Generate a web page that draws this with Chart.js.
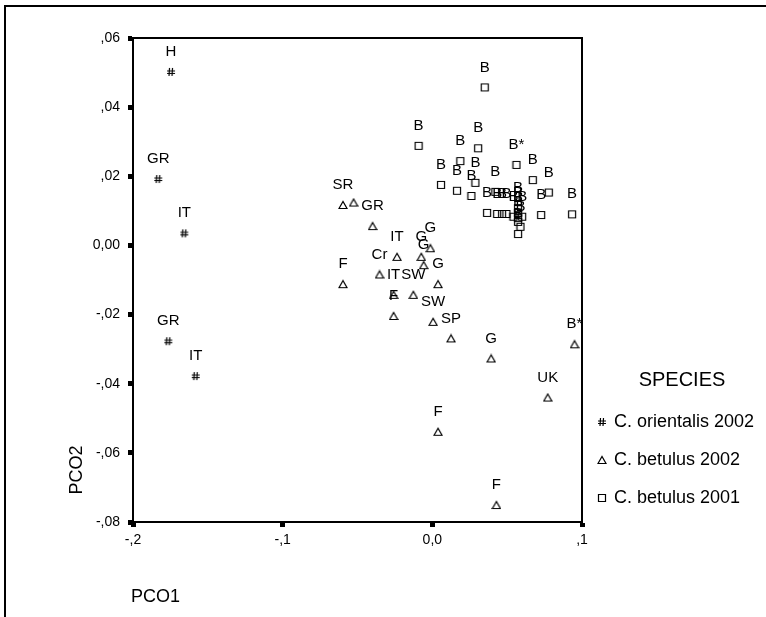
<!DOCTYPE html>
<html>
<head>
<meta charset="utf-8">
<script src="https://cdn.jsdelivr.net/npm/chart.js@4.4.1/dist/chart.umd.min.js"></script>
<style>
  html, body { margin: 0; padding: 0; background: #fff; }
  #wrap { width: 766px; height: 617px; }
</style>
</head>
<body>
<div id="wrap"><canvas id="pcoChart" width="766" height="617"></canvas></div>
<script>
// PCO1 / PCO2 scores per sample
const orientalisX = [-0.1746, -0.1831, -0.1657, -0.1764, -0.1581];
const orientalisY = [0.0502, 0.0192, 0.0035, -0.0277, -0.0378];
const orientalisLabels = ['H', 'GR', 'IT', 'GR', 'IT'];

const betulus02X = [-0.0597, -0.0526, -0.0399, -0.0236, -0.0353, -0.0259, -0.0259, -0.0597, -0.0127, 0.0005,
                    0.0125, -0.0013, -0.0074, -0.0058, 0.0038, 0.0393, 0.0771, 0.0950, 0.0038, 0.0428];
const betulus02Y = [0.0117, 0.0124, 0.0056, -0.0033, -0.0084, -0.0143, -0.0204, -0.0112, -0.0143, -0.0221,
                    -0.0269, -0.0008, -0.0033, -0.0057, -0.0112, -0.0327, -0.0440, -0.0286, -0.0539, -0.0751];
const betulus02Labels = ['SR', '', 'GR', 'IT', 'Cr', 'IT', 'F', 'F', 'SW', 'SW',
                         'SP', 'G', 'G', 'G', 'G', 'G', 'UK', 'B*', 'F', 'F'];

const betulus01X = [0.0350, -0.0092, 0.0306, 0.0187, 0.0562, 0.0671, 0.0058, 0.0288, 0.0165, 0.0261,
                    0.0421, 0.0778, 0.0366, 0.0433, 0.0466, 0.0495, 0.0542, 0.0573, 0.0573, 0.0573,
                    0.0600, 0.0573, 0.0589, 0.0573, 0.0727, 0.0934];
const betulus01Y = [0.0457, 0.0288, 0.0281, 0.0244, 0.0233, 0.0189, 0.0175, 0.0181, 0.0158, 0.0143,
                    0.0155, 0.0153, 0.0094, 0.0091, 0.0091, 0.0091, 0.0083, 0.0108, 0.0094, 0.0079,
                    0.0083, 0.0068, 0.0054, 0.0033, 0.0088, 0.0090];
const betulus01Labels = ['B', 'B', 'B', 'B', 'B*', 'B', 'B', 'B', 'B', 'B',
                         'B', 'B', 'B', 'B', 'B', 'B', 'B', 'B', 'B', 'B',
                         'B', 'B', 'B', 'B', 'B', 'B'];

const seriesNames = ['C. orientalis 2002', 'C. betulus 2002', 'C. betulus 2001'];
const xTicks = [-0.2, -0.1, 0.0, 0.1];
const yTicks = [-0.08, -0.06, -0.04, -0.02, 0.0, 0.02, 0.04, 0.06];

const FONT = "'Liberation Sans', Arial, sans-serif";

// marker glyphs
function makeMarker(kind) {
    const c = document.createElement('canvas');
    c.width = 10; c.height = 10;
    const g = c.getContext('2d');
    g.strokeStyle = '#000';
    g.lineWidth = 1.2;
    g.beginPath();
    if (kind === 'tri') {
        g.moveTo(1, 8.5); g.lineTo(5, 1.5); g.lineTo(9, 8.5); g.closePath();
    } else if (kind === 'sq') {
        g.rect(1.5, 1.5, 7, 7);
    } else {
        g.moveTo(3.5, 1); g.lineTo(3, 9);
        g.moveTo(6.5, 1); g.lineTo(6, 9);
        g.moveTo(1, 4); g.lineTo(9, 4);
        g.moveTo(1, 6.5); g.lineTo(9, 6.5);
    }
    g.stroke();
    return c;
}
const markers = [makeMarker('star'), makeMarker('tri'), makeMarker('sq')];

function toPoints(xs, ys) {
    return xs.map((x, i) => ({ x: x, y: ys[i] }));
}

function spss(v, digits) {
    if (Math.abs(v) < 1e-9) return (0).toFixed(digits).replace('.', ',');
    const s = Math.abs(v).toFixed(digits).replace('.', ',').replace(/^0/, '');
    return (v < 0 ? '-' : '') + s;
}

const pointLabels = [orientalisLabels, betulus02Labels, betulus01Labels];

const labelPlugin = {
    id: 'pointLabels',
    afterDatasetsDraw(chart) {
        const ctx = chart.ctx;
        ctx.save();
        ctx.fillStyle = '#000';
        ctx.font = '15px ' + FONT;
        ctx.textAlign = 'center';
        ctx.textBaseline = 'middle';
        chart.data.datasets.forEach((ds, i) => {
            chart.getDatasetMeta(i).data.forEach((pt, j) => {
                const t = pointLabels[i][j];
                if (t) ctx.fillText(t, pt.x, pt.y - 20);
            });
        });
        ctx.restore();
    }
};

const framePlugin = {
    id: 'frame',
    beforeDraw(chart) {
        const ctx = chart.ctx;
        ctx.save();
        ctx.fillStyle = '#fff';
        ctx.fillRect(0, 0, chart.width, chart.height);
        ctx.fillStyle = '#000';
        ctx.fillRect(5, 5, chart.width - 5, 2);
        ctx.fillRect(4, 5, 2, chart.height - 5);
        ctx.restore();
    },
    afterDraw(chart) {
        const ctx = chart.ctx;
        const a = chart.chartArea;
        ctx.save();
        ctx.strokeStyle = '#000';
        ctx.lineWidth = 2;
        ctx.strokeRect(a.left, a.top, a.right - a.left, a.bottom - a.top);

        ctx.fillStyle = '#000';
        ctx.font = '18px ' + FONT;
        ctx.textBaseline = 'middle';
        ctx.textAlign = 'left';
        ctx.fillText('PCO1', 131, 597);
        ctx.save();
        ctx.translate(77, 470);
        ctx.rotate(-Math.PI / 2);
        ctx.textAlign = 'center';
        ctx.fillText('PCO2', 0, 0);
        ctx.restore();

        // legend
        ctx.textAlign = 'center';
        ctx.font = '20px ' + FONT;
        ctx.fillText('SPECIES', 682, 380);
        ctx.textAlign = 'left';
        ctx.font = '18px ' + FONT;
        const rows = [422, 460, 498];
        seriesNames.forEach((name, i) => {
            ctx.drawImage(markers[i], 597, rows[i] - 5);
            ctx.fillText(name, 614, rows[i]);
        });
        ctx.restore();
    }
};

const tickFont = { family: FONT, size: 14 };

const config = {
    type: 'scatter',
    data: {
        datasets: [
            { label: seriesNames[0], data: toPoints(orientalisX, orientalisY), pointStyle: markers[0] },
            { label: seriesNames[1], data: toPoints(betulus02X, betulus02Y), pointStyle: markers[1] },
            { label: seriesNames[2], data: toPoints(betulus01X, betulus01Y), pointStyle: markers[2] },
        ],
    },
    options: {
        responsive: false,
        animation: false,
        devicePixelRatio: 1,
        clip: false,
        layout: { padding: { top: 38, right: 184, left: 0, bottom: 0 } },
        plugins: {
            legend: { display: false },
            tooltip: { enabled: false },
            title: { display: false },
        },
        scales: {
            x: {
                type: 'linear',
                min: -0.2,
                max: 0.1,
                afterBuildTicks(scale) { scale.ticks = xTicks.map(v => ({ value: v })); },
                afterFit(scale) { scale.height = 95; },
                ticks: {
                    color: '#000',
                    font: tickFont,
                    padding: 5,
                    maxRotation: 0,
                    callback: v => spss(v, 1),
                },
                grid: { drawOnChartArea: false, tickLength: 5, tickWidth: 5, tickColor: '#000' },
                border: { color: '#000', width: 2 },
            },
            y: {
                type: 'linear',
                min: -0.08,
                max: 0.06,
                afterBuildTicks(scale) { scale.ticks = yTicks.map(v => ({ value: v })); },
                afterFit(scale) { scale.width = 133; },
                ticks: {
                    color: '#000',
                    font: tickFont,
                    padding: 8,
                    callback: v => spss(v, 2),
                },
                grid: { drawOnChartArea: false, tickLength: 5, tickWidth: 5, tickColor: '#000' },
                border: { color: '#000', width: 2 },
            },
        },
    },
    plugins: [framePlugin, labelPlugin],
};

new Chart(document.getElementById('pcoChart').getContext('2d'), config);
</script>
</body>
</html>
